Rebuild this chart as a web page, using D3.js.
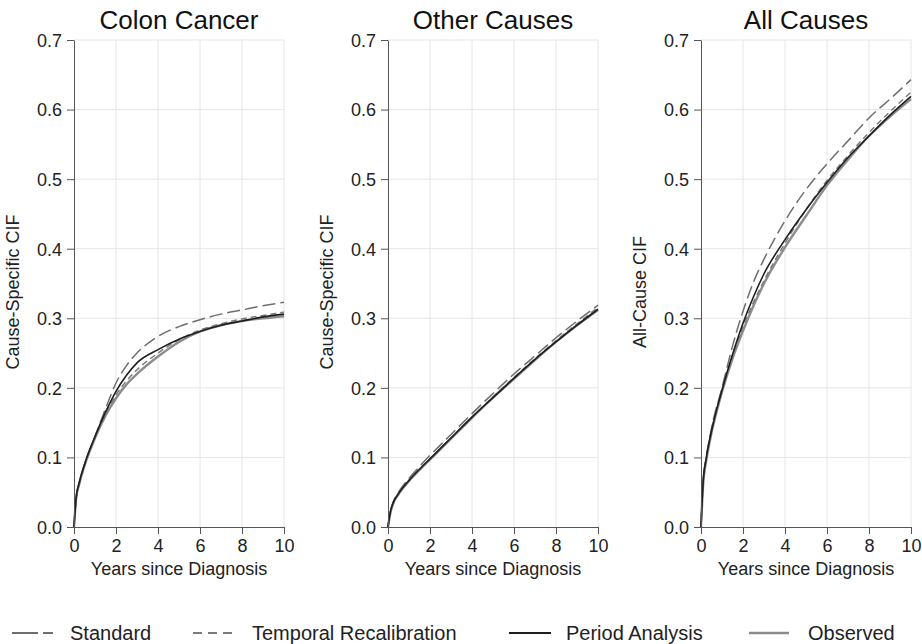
<!DOCTYPE html>
<html>
<head>
<meta charset="utf-8">
<script src="https://cdn.jsdelivr.net/npm/d3@7"></script>
<style>
  body { margin: 0; background: #fff; }
  svg { font-family: "Liberation Sans", Arial, sans-serif; }
</style>
</head>
<body>
<div id="chart"></div>
<script>
// years since diagnosis (shared x values)
var years = [0, 0.1, 0.25, 0.5, 1, 1.5, 2, 2.5, 3, 4, 5, 6, 7, 8, 9, 10];

// colon cancer
var colonStandard = [0, 0.04, 0.062, 0.09, 0.13, 0.17, 0.207, 0.232, 0.25, 0.274, 0.288, 0.298, 0.306, 0.312, 0.318, 0.323];
var colonTemporal = [0, 0.04, 0.062, 0.088, 0.128, 0.162, 0.19, 0.21, 0.226, 0.25, 0.269, 0.283, 0.292, 0.299, 0.304, 0.309];
var colonPeriod   = [0, 0.042, 0.064, 0.09, 0.13, 0.165, 0.195, 0.218, 0.236, 0.255, 0.27, 0.281, 0.29, 0.296, 0.302, 0.306];
var colonObserved = [0, 0.04, 0.062, 0.088, 0.128, 0.16, 0.185, 0.205, 0.22, 0.245, 0.266, 0.281, 0.29, 0.296, 0.3, 0.303];

// other causes
var otherStandard = [0, 0.02, 0.036, 0.05, 0.07, 0.087, 0.103, 0.118, 0.133, 0.163, 0.192, 0.22, 0.246, 0.272, 0.296, 0.319];
var otherTemporal = [0, 0.02, 0.035, 0.048, 0.067, 0.083, 0.098, 0.113, 0.128, 0.158, 0.187, 0.215, 0.242, 0.268, 0.292, 0.316];
var otherPeriod   = [0, 0.02, 0.035, 0.048, 0.067, 0.083, 0.098, 0.113, 0.128, 0.158, 0.186, 0.214, 0.241, 0.266, 0.29, 0.313];
var otherObserved = [0, 0.018, 0.034, 0.047, 0.066, 0.082, 0.097, 0.112, 0.127, 0.157, 0.186, 0.213, 0.24, 0.266, 0.29, 0.312];

// all causes
var allStandard = [0, 0.065, 0.1, 0.142, 0.2, 0.26, 0.31, 0.352, 0.385, 0.44, 0.485, 0.522, 0.555, 0.588, 0.615, 0.643];
var allTemporal = [0, 0.062, 0.097, 0.137, 0.195, 0.245, 0.288, 0.323, 0.354, 0.408, 0.456, 0.498, 0.534, 0.567, 0.597, 0.625];
var allPeriod   = [0, 0.064, 0.099, 0.138, 0.197, 0.248, 0.293, 0.331, 0.364, 0.413, 0.456, 0.495, 0.531, 0.562, 0.592, 0.619];
var allObserved = [0, 0.06, 0.095, 0.135, 0.194, 0.242, 0.282, 0.318, 0.35, 0.402, 0.447, 0.491, 0.528, 0.562, 0.59, 0.615];

var titles = ["Colon Cancer", "Other Causes", "All Causes"];
var yLabels = ["Cause-Specific CIF", "Cause-Specific CIF", "All-Cause CIF"];
var xTicks = [0, 2, 4, 6, 8, 10];
var yTicks = [0, 0.1, 0.2, 0.3, 0.4, 0.5, 0.6, 0.7];
var methods = ["Standard", "Temporal Recalibration", "Period Analysis", "Observed"];

var panelData = [
    [colonStandard, colonTemporal, colonPeriod, colonObserved],
    [otherStandard, otherTemporal, otherPeriod, otherObserved],
    [allStandard, allTemporal, allPeriod, allObserved]
];

var width = 922, height = 644;

//每个面板的位置
var panelLeft = [74, 388, 701];
var panelWidth = 210;
var plotTop = 40, plotBottom = 527;

// line styles for each method
var styles = [
    {stroke: "#6e6e6e", width: 1.5, dash: "13,5"},
    {stroke: "#7a7a7a", width: 1.5, dash: "6,4"},
    {stroke: "#1e1e1e", width: 1.6, dash: null},
    {stroke: "#8c8c8c", width: 2.4, dash: null}
];

var svg = d3.select("#chart").append("svg")
    .attr("width", width)
    .attr("height", height);

var yScale = d3.scaleLinear()
    .domain([0, 0.7])
    .range([plotBottom, plotTop]);

panelData.forEach(function (series, p) {
    var xScale = d3.scaleLinear()
        .domain([0, 10])
        .range([panelLeft[p], panelLeft[p] + panelWidth]);

    var g = svg.append("g");

    // grid
    g.selectAll(".vgrid")
        .data(xTicks.slice(1))
        .enter().append("line")
        .attr("x1", function (d) { return xScale(d); })
        .attr("x2", function (d) { return xScale(d); })
        .attr("y1", plotTop).attr("y2", plotBottom)
        .attr("stroke", "#e6e6e6").attr("stroke-width", 1);
    g.selectAll(".hgrid")
        .data(yTicks.slice(1))
        .enter().append("line")
        .attr("x1", xScale(0)).attr("x2", xScale(10))
        .attr("y1", function (d) { return yScale(d); })
        .attr("y2", function (d) { return yScale(d); })
        .attr("stroke", "#e6e6e6").attr("stroke-width", 1);

    // curves
    var line = d3.line()
        .x(function (d, i) { return xScale(years[i]); })
        .y(function (d) { return yScale(d); })
        .curve(d3.curveMonotoneX);

    // draw observed first, so model lines sit on top
    [3, 1, 0, 2].forEach(function (m) {
        var s = styles[m];
        g.append("path")
            .datum(series[m])
            .attr("d", line)
            .attr("fill", "none")
            .attr("stroke", s.stroke)
            .attr("stroke-width", s.width)
            .attr("stroke-dasharray", s.dash);
    });

    // axes
    var xAxis = d3.axisBottom(xScale).tickValues(xTicks).tickSize(7).tickSizeOuter(0);
    var yAxis = d3.axisLeft(yScale).tickValues(yTicks).tickSize(7).tickSizeOuter(0)
        .tickFormat(d3.format(".1f"));

    var gx = g.append("g")
        .attr("transform", "translate(0," + plotBottom + ")")
        .call(xAxis);
    var gy = g.append("g")
        .attr("transform", "translate(" + xScale(0) + ",0)")
        .call(yAxis);

    [gx, gy].forEach(function (a) {
        a.select(".domain").attr("stroke", "#555");
        a.selectAll(".tick line").attr("stroke", "#555");
        a.selectAll(".tick text")
            .attr("fill", "#222")
            .style("font-size", "18px")
            .style("font-family", "Liberation Sans, Arial, sans-serif");
    });
    gx.selectAll(".tick text").attr("dy", "0.85em");
    gy.selectAll(".tick text").attr("dx", "-2").attr("dy", "0.35em");

    // title
    g.append("text")
        .attr("x", xScale(5))
        .attr("y", 29)
        .attr("text-anchor", "middle")
        .style("font-size", "26px")
        .attr("fill", "#111")
        .text(titles[p]);

    // x label
    g.append("text")
        .attr("x", xScale(5))
        .attr("y", 575)
        .attr("text-anchor", "middle")
        .style("font-size", "18px")
        .attr("fill", "#222")
        .text("Years since Diagnosis");

    // y label
    var ylx = xScale(0) - 55;
    g.append("text")
        .attr("transform", "translate(" + ylx + "," + 292 + ") rotate(-90)")
        .attr("text-anchor", "middle")
        .style("font-size", "18px")
        .attr("fill", "#222")
        .text(yLabels[p]);
});

// legend
var legendLine = [[12, 53], [193, 232], [509, 551], [749, 789]];
var legendText = [70, 252, 566, 808];
var legendDash = ["26,5,10,20", "9,6", null, null];
var ly = 633;
methods.forEach(function (name, m) {
    svg.append("line")
        .attr("x1", legendLine[m][0]).attr("x2", legendLine[m][1])
        .attr("y1", ly).attr("y2", ly)
        .attr("stroke", styles[m].stroke)
        .attr("stroke-width", m == 3 ? 2.4 : 2)
        .attr("stroke-dasharray", legendDash[m]);
    svg.append("text")
        .attr("x", legendText[m])
        .attr("y", ly + 7)
        .style("font-size", "20px")
        .attr("fill", "#222")
        .text(name);
});
</script>
</body>
</html>
